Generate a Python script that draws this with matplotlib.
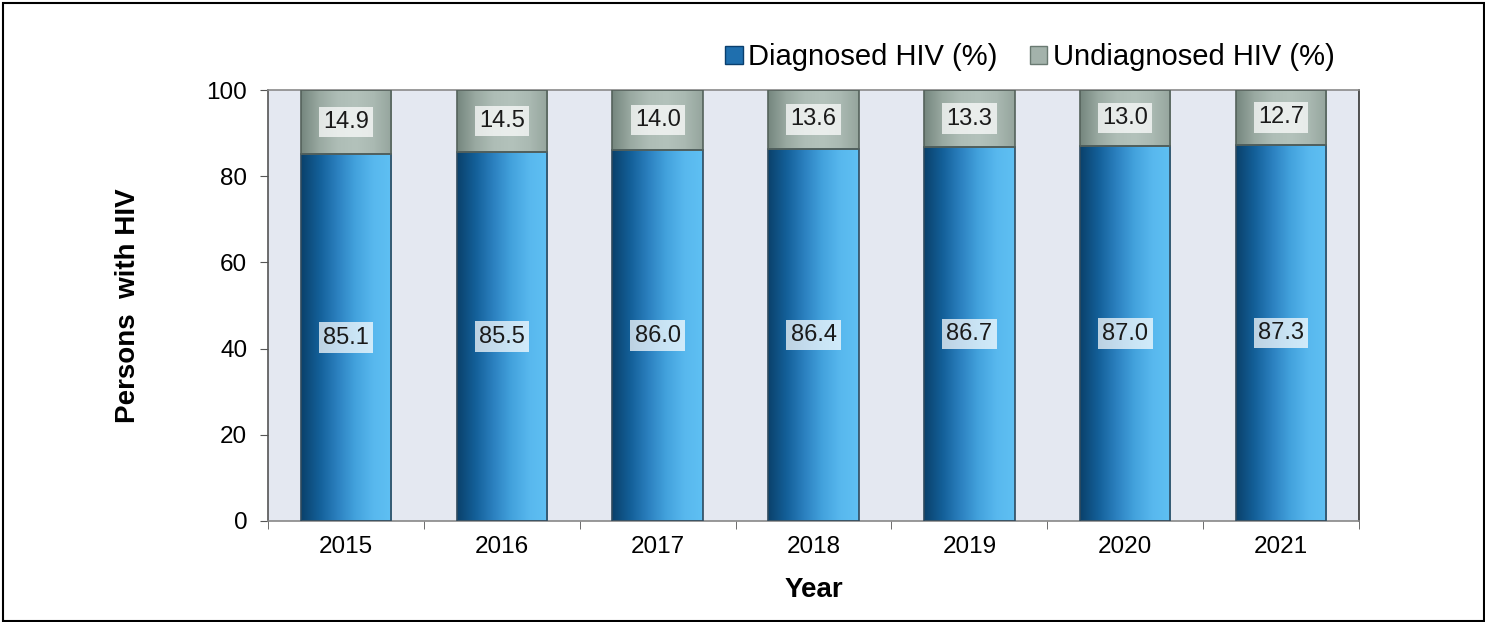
import numpy as np
import matplotlib
matplotlib.use("Agg")
import matplotlib.pyplot as plt
from matplotlib.colors import LinearSegmentedColormap
from matplotlib.patches import Patch, Rectangle

plt.rcParams['font.family'] = ['Liberation Sans', 'DejaVu Sans']

# data
years = ['2015', '2016', '2017', '2018', '2019', '2020', '2021']
diagnosed = [85.1, 85.5, 86.0, 86.4, 86.7, 87.0, 87.3]
undiagnosed = [14.9, 14.5, 14.0, 13.6, 13.3, 13.0, 12.7]

blue_cmap = LinearSegmentedColormap.from_list(
    'blue', ['#0a416b', '#135f98', '#2b80bf', '#43a2dd', '#58b8ee', '#5fc0f3'])
gray_cmap = LinearSegmentedColormap.from_list(
    'gray', ['#75867e', '#99a9a1', '#aebdb6', '#b3c2bb', '#aab9b2', '#95a59d'])

fig = plt.figure(figsize=(14.85, 6.22), dpi=100)
ax = fig.add_axes([0.1805, 0.1624, 0.7347, 0.6929])
ax.set_facecolor('#e4e8f1')

x = np.arange(len(years))
grad = np.linspace(0, 1, 256).reshape(1, -1)


def gradient_bars(bars, cmap):
    for b in bars:
        x0, y0 = b.get_x(), b.get_y()
        img = ax.imshow(grad, cmap=cmap, aspect='auto', interpolation='bicubic',
                        extent=[x0, x0 + b.get_width(), y0, y0 + b.get_height()],
                        zorder=2)
        img.set_clip_path(b)


b1 = ax.bar(x, diagnosed, width=0.58, facecolor='none', edgecolor='#2f4a5e',
            linewidth=1.2, zorder=3)
b2 = ax.bar(x, undiagnosed, bottom=diagnosed, width=0.58, facecolor='none',
            edgecolor='#55625c', linewidth=1.2, zorder=3)
gradient_bars(b1, blue_cmap)
gradient_bars(b2, gray_cmap)

box = dict(boxstyle='square,pad=0.18', fc=(1, 1, 1, 0.72), ec='none')
for xi, d, u in zip(x, diagnosed, undiagnosed):
    ax.text(xi, d / 2, f'{d:.1f}', ha='center', va='center', fontsize=17,
            color='#1a1a1a', bbox=box, zorder=5)
    ax.text(xi, d + u / 2, f'{u:.1f}', ha='center', va='center', fontsize=17,
            color='#1a1a1a', bbox=box, zorder=5)

ax.set_xlim(-0.5, len(years) - 0.5)
ax.set_ylim(0, 100)
ax.set_yticks(np.arange(0, 101, 20))
ax.set_xticks(x)
ax.set_xticklabels(years)
ax.set_xticks(np.arange(-0.5, len(years), 1), minor=True)
ax.tick_params(axis='x', which='major', length=0, pad=11, labelsize=17.5)
ax.tick_params(axis='x', which='minor', length=6, direction='out', color='#555555')
ax.tick_params(axis='y', length=6, direction='out', pad=9, labelsize=17.5,
               color='#555555')

ax.spines['left'].set_color('#555555')
ax.spines['bottom'].set_color('#888888')
ax.spines['top'].set_color('#8a8a8a')
ax.spines['right'].set_color('#333333')
for s in ax.spines.values():
    s.set_linewidth(1.2)

ax.set_ylabel('Persons  with HIV', fontsize=20, fontweight='bold')
ax.yaxis.set_label_coords(-0.116, 0.5)
ax.set_xlabel('Year', fontsize=20, fontweight='bold', va='top')
ax.xaxis.set_label_coords(0.5, -0.13)

handles = [Patch(facecolor='#1f6fae', edgecolor='#0a3f6e', label='Diagnosed HIV (%)'),
           Patch(facecolor='#a3b2ab', edgecolor='#6a7a72', label='Undiagnosed HIV (%)')]
fig.legend(handles=handles, loc='center right', bbox_to_anchor=(0.899, 0.908),
           ncol=2, frameon=False, fontsize=21, handlelength=0.6, handleheight=0.6,
           handletextpad=0.2, columnspacing=1.1, borderaxespad=0, borderpad=0)

fig.add_artist(Rectangle((0.0017, 0.0024), 0.9973, 0.992, transform=fig.transFigure,
                         fill=False, edgecolor='black', linewidth=1.5))

fig.savefig('out.png', dpi=100)
